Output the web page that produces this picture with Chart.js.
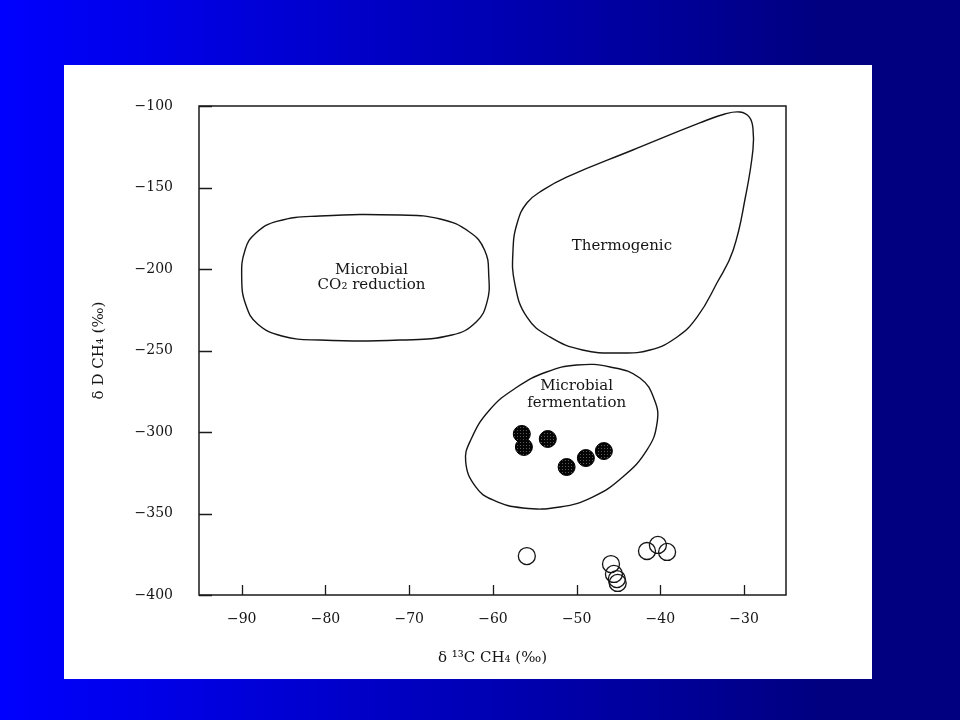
<!DOCTYPE html>
<html><head><meta charset="utf-8">
<script src="https://cdn.jsdelivr.net/npm/chart.js@4.4.1/dist/chart.umd.min.js"></script>
<style>
html,body{margin:0;padding:0;width:960px;height:720px;overflow:hidden;}
body{background:linear-gradient(to right,#0000ff 0%,#000080 86%,#000080 100%);position:relative;}
#panel{position:absolute;left:64px;top:65px;width:808px;height:614px;background:#fff;}
#c{position:absolute;left:0;top:0;}
</style></head><body>
<div id="panel"></div>
<canvas id="c" width="960" height="720"></canvas>
<script>
// ---- data (values in per-mil) ----
const xTicks = [-90, -80, -70, -60, -50, -40, -30];
const yTicks = [-400, -350, -300, -250, -200, -150, -100];

// field outlines [δ13C, δD]
const co2Reduction = [
  [-90.0,-205.5],[-89.6,-188.3],[-88.3,-177.9],[-85.7,-170.6],[-80.7,-167.5],[-71.1,-166.9],
  [-66.3,-169.3],[-62.8,-177.3],[-61.0,-188.3],[-60.5,-203.7],[-60.7,-220.2],[-62.0,-232.5],
  [-64.9,-240.5],[-71.1,-243.6],[-80.7,-243.6],[-85.2,-241.1],[-88.1,-233.7],[-89.5,-222.1]
];
const thermogenic = [
  [-54.0,-151.5],[-51.2,-143.6],[-43.3,-127.0],[-35.3,-110.4],[-32.3,-104.9],[-30.5,-103.7],
  [-29.4,-106.7],[-28.95,-113.5],[-28.95,-127.0],[-29.8,-154.6],[-31.3,-188.3],[-33.25,-208.6],
  [-35.6,-229.4],[-38.0,-241.7],[-41.25,-249.7],[-44.8,-251.5],[-49.3,-249.7],[-53.2,-241.7],
  [-55.95,-229.4],[-57.4,-208.6],[-57.6,-188.3],[-57.1,-171.8],[-55.95,-159.5]
];
const fermentation = [
  [-63.25,-318.4],[-62.65,-304.9],[-60.4,-286.5],[-57.1,-272.4],[-53.6,-263.2],[-50.0,-258.9],
  [-46.0,-260.1],[-42.45,-266.9],[-40.7,-280.4],[-40.4,-294.5],[-41.6,-311.0],[-44.5,-327.6],
  [-48.1,-339.9],[-52.0,-346.0],[-56.4,-346.6],[-60.0,-341.7],[-62.05,-333.7]
];

// samples
const filledX = [-56.55, -56.3, -53.45, -51.2, -48.9, -46.75];
const filledY = [-301.2, -309.2, -304.3, -321.5, -316.0, -311.7];
const openX = [-55.95, -45.9, -45.55, -45.2, -45.1, -41.6, -40.3, -39.2];
const openY = [-376.1, -381.0, -387.1, -390.2, -392.6, -373.0, -369.3, -373.6];

// field labels
const labelText = ['Microbial', 'CO\u2082 reduction', 'Thermogenic', 'Microbial', 'fermentation'];
const labelX = [-74.5, -74.5, -44.6, -50.0, -50.0];
const labelY = [-200.6, -209.8, -185.9, -271.8, -282.2];

// ---- build ----
const INK = '#151515';
Chart.defaults.font.family = '"DejaVu Serif", "Liberation Serif", serif';
Chart.defaults.color = INK;

const canvas = document.getElementById('c');
const ctx0 = canvas.getContext('2d');
const pc = document.createElement('canvas');
pc.width = 3; pc.height = 3;
const pcx = pc.getContext('2d');
pcx.fillStyle = '#050505'; pcx.fillRect(0, 0, 3, 3);
pcx.fillStyle = '#5a5a5a'; pcx.fillRect(1, 1, 1, 1);
const dotFill = ctx0.createPattern(pc, 'repeat');

function loopData(pts) {
  const n = pts.length;
  const seq = [pts[n - 1], ...pts, pts[0], pts[1]];
  return seq.map(p => ({x: p[0], y: p[1]}));
}
function outline(pts) {
  const n = pts.length;
  return {
    data: loopData(pts),
    showLine: true,
    tension: 0.45,
    borderColor: INK,
    borderWidth: 1.4,
    pointRadius: 0,
    pointHoverRadius: 0,
    fill: false,
    segment: {
      borderColor: c => (c.p0DataIndex === 0 || c.p0DataIndex === n + 1) ? 'rgba(0,0,0,0)' : INK
    }
  };
}
const fmt = v => (v < 0 ? '\u2212' : '') + Math.abs(v);

const decor = {
  id: 'decor',
  beforeDatasetsDraw(chart) {
    const {ctx, chartArea: a, scales: {x, y}} = chart;
    ctx.save();
    ctx.strokeStyle = '#1a1a1a';
    ctx.lineWidth = 1.5;
    ctx.strokeRect(a.left, a.top, a.right - a.left, a.bottom - a.top);
    ctx.lineWidth = 1.3;
    ctx.beginPath();
    xTicks.forEach(v => { const px = Math.round(x.getPixelForValue(v)) + 0.5; ctx.moveTo(px, a.bottom); ctx.lineTo(px, a.bottom - 10); });
    yTicks.forEach(v => { const py = Math.round(y.getPixelForValue(v)) + 0.5; ctx.moveTo(a.left, py); ctx.lineTo(a.left + 13, py); });
    ctx.stroke();
    ctx.fillStyle = INK;
    ctx.font = '15px "DejaVu Serif"';
    ctx.textAlign = 'center';
    ctx.textBaseline = 'middle';
    labelText.forEach((t, i) => ctx.fillText(t, x.getPixelForValue(labelX[i]), y.getPixelForValue(labelY[i])));
    ctx.restore();
  }
};

new Chart(canvas, {
  type: 'scatter',
  data: {
    datasets: [
      {
        data: filledX.map((v, i) => ({x: v, y: filledY[i]})),
        pointRadius: 8.5, pointHoverRadius: 8.5,
        pointBackgroundColor: dotFill, pointBorderColor: '#000', pointBorderWidth: 1
      },
      {
        data: openX.map((v, i) => ({x: v, y: openY[i]})),
        pointRadius: 8.5, pointHoverRadius: 8.5,
        pointBackgroundColor: 'rgba(0,0,0,0)', pointBorderColor: INK, pointBorderWidth: 1.3
      },
      outline(co2Reduction),
      outline(thermogenic),
      outline(fermentation)
    ]
  },
  options: {
    responsive: false,
    animation: false,
    events: [],
    layout: {padding: {left: 0, top: 106, right: 174, bottom: 0}},
    plugins: {legend: {display: false}, tooltip: {enabled: false}, title: {display: false}},
    scales: {
      x: {
        type: 'linear', min: -95.1, max: -25,
        afterBuildTicks: s => { s.ticks = xTicks.map(v => ({value: v})); },
        afterFit: s => { s.height = 125; },
        grid: {display: false, drawTicks: false},
        border: {display: false},
        ticks: {padding: 16, font: {size: 14}, color: INK, callback: fmt, maxRotation: 0, autoSkip: false},
        title: {display: true, text: '\u03b4 \u00b9\u00b3C CH\u2084 (\u2030)', font: {size: 15}, color: INK, padding: {top: 0, bottom: 53}}
      },
      y: {
        type: 'linear', min: -400, max: -100,
        afterBuildTicks: s => { s.ticks = yTicks.map(v => ({value: v})); },
        afterFit: s => { s.width = 199; },
        grid: {display: false, drawTicks: false},
        border: {display: false},
        ticks: {padding: 26, font: {size: 14}, color: INK, callback: fmt, autoSkip: false},
        title: {display: true, text: '\u03b4 D CH\u2084 (\u2030)', font: {size: 15}, color: INK, padding: {top: 90, bottom: 0}}
      }
    }
  },
  plugins: [decor]
});
</script>
</body></html>
